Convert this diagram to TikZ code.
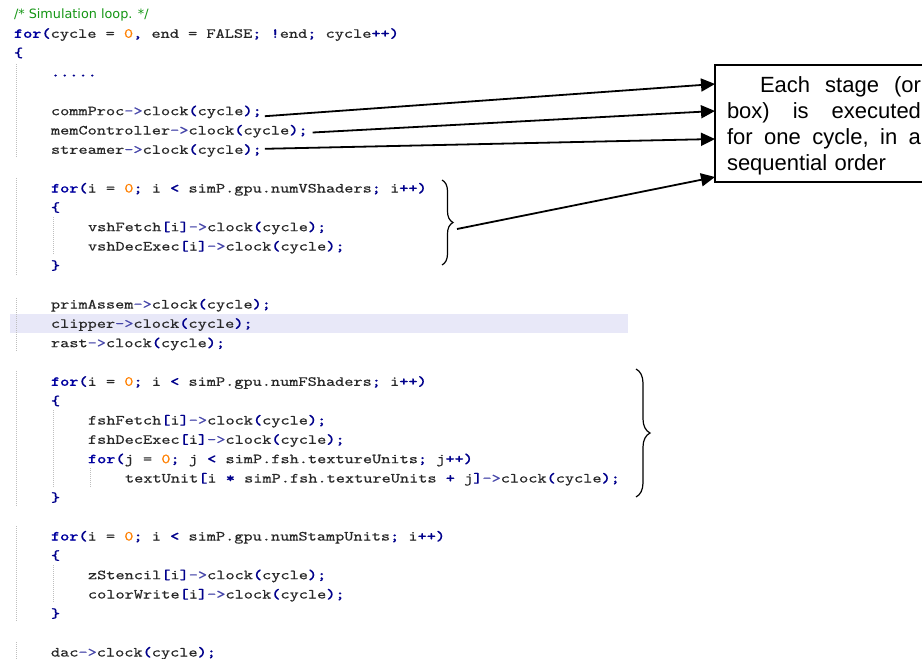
\documentclass[tikz,border=0pt]{standalone}
\usepackage{fontspec}
\setmonofont[FakeStretch=1.256, FakeBold=0.45, BoldFont=lmmonolt10-bold.otf]{lmmono10-regular.otf}
\newfontfamily\arialf{Liberation Sans}
\newfontfamily\cmtf{DejaVu Sans}
\usetikzlibrary{arrows.meta,decorations.pathreplacing}
\definecolor{kwc}{RGB}{0,0,160}
\definecolor{opc}{RGB}{0,0,140}
\definecolor{arc}{RGB}{70,70,170}
\definecolor{numc}{RGB}{255,128,0}
\definecolor{idc}{RGB}{40,40,40}
\definecolor{cmc}{RGB}{20,150,20}
\definecolor{hlc}{RGB}{232,232,248}
\definecolor{guidec}{RGB}{190,190,190}
\newcommand\ckw[1]{\textcolor{kwc}{\bfseries #1}}
\newcommand\cop[1]{\textcolor{opc}{\bfseries #1}}
\newcommand\cnum[1]{\textcolor{numc}{#1}}
\newcommand\carr{\textcolor{arc}{->}}
\newcommand\clk{\carr clock\cop{(}cycle\cop{);}}
\tikzset{
  code/.style={anchor=base west, inner sep=0pt, outer sep=0pt, text=idc,
    font=\ttfamily\fontsize{13.9}{15}\selectfont},
  cmt/.style={anchor=base west, inner sep=0pt, outer sep=0pt, text=cmc,
    font=\cmtf\fontsize{12.8}{15}\selectfont},
  guide/.style={draw=guidec, line width=0.7pt, dash pattern=on 1pt off 1pt},
  arr/.style={line width=1.8pt, -{Triangle[length=14pt,width=13pt]}},
  brc/.style={decorate, decoration={brace, amplitude=11pt}, line width=1.2pt},
  notebox/.style={draw, line width=1.5pt, outer sep=0pt, inner xsep=12pt,
    inner ysep=0pt, text width=194pt, align=left,
    font=\arialf\fontsize{22}{25.8}\selectfont}
}
\begin{document}
\begin{tikzpicture}[x=1pt,y=-1pt]
\useasboundingbox (0,0) rectangle (922,659);
\fill[white] (0,0) rectangle (922,659);
\fill[hlc] (10,314) rectangle (628,333);
% indent guides
\draw[guide] (16,64) -- (16,158);
\draw[guide] (16,178) -- (16,275);
\draw[guide] (16,298) -- (16,352);
\draw[guide] (16,371) -- (16,506);
\draw[guide] (16,526) -- (16,622);
\draw[guide] (16,642) -- (16,659);
\draw[guide] (53,217) -- (53,255);
\draw[guide] (53,410) -- (53,487);
\draw[guide] (53,565) -- (53,603);
\draw[guide] (90,468) -- (90,487);
% code
\node[cmt] (cmt) at (14,18.3) {/* Simulation loop. */};
\node[code] (r1) at (14,37.8) {\ckw{for}\cop{(}cycle = \cnum{0}\cop{,} end = FALSE\cop{;} \cop{!}end\cop{;} cycle\cop{++)}};
\node[code] (r2) at (14,57.2) {\cop{\{}};
\node[code] (r3) at (51,76.5) {\cop{.....}};
\node[code] (commproc) at (51,115.2) {commProc\clk};
\node[code] (memctrl) at (51,134.5) {memController\clk};
\node[code] (streamer) at (51,153.8) {streamer\clk};
\node[code] (vfor) at (51,192.5) {\ckw{for}\cop{(}i = \cnum{0}\cop{;} i \cop{<} simP.gpu.numVShaders\cop{;} i\cop{++)}};
\node[code] (vopen) at (51,211.8) {\cop{\{}};
\node[code] (vfetch) at (88,231.2) {vshFetch\cop{[}i\cop{]}\clk};
\node[code] (vdec) at (88,250.5) {vshDecExec\cop{[}i\cop{]}\clk};
\node[code] (vclose) at (51,269.8) {\cop{\}}};
\node[code] (prim) at (51,308.5) {primAssem\clk};
\node[code] (clip) at (51,327.8) {clipper\clk};
\node[code] (rast) at (51,347.2) {rast\clk};
\node[code] (ffor) at (51,385.8) {\ckw{for}\cop{(}i = \cnum{0}\cop{;} i \cop{<} simP.gpu.numFShaders\cop{;} i\cop{++)}};
\node[code] (fopen) at (51,405.2) {\cop{\{}};
\node[code] (ffetch) at (88,424.5) {fshFetch\cop{[}i\cop{]}\clk};
\node[code] (fdec) at (88,443.8) {fshDecExec\cop{[}i\cop{]}\clk};
\node[code] (tfor) at (88,463.2) {\ckw{for}\cop{(}j = \cnum{0}\cop{;} j \cop{<} simP.fsh.textureUnits\cop{;} j\cop{++)}};
\node[code] (tunit) at (125,482.5) {textUnit\cop{[}i \cop{*} simP.fsh.textureUnits \cop{+} j\cop{]}\clk};
\node[code] (fclose) at (51,501.8) {\cop{\}}};
\node[code] (sfor) at (51,540.5) {\ckw{for}\cop{(}i = \cnum{0}\cop{;} i \cop{<} simP.gpu.numStampUnits\cop{;} i\cop{++)}};
\node[code] (sopen) at (51,559.8) {\cop{\{}};
\node[code] (zst) at (88,579.2) {zStencil\cop{[}i\cop{]}\clk};
\node[code] (cwr) at (88,598.5) {colorWrite\cop{[}i\cop{]}\clk};
\node[code] (sclose) at (51,617.8) {\cop{\}}};
\node[code] (dac) at (51,656.5) {dac\clk};
% braces
\draw[brc] (442,180) -- (442,265);
\draw[brc, decoration={amplitude=14pt}] (636,369) -- (636,497);
\coordinate (vtip) at (457,229);
% note box
\node[notebox, anchor=north west] (box) at (715,65)
  {\rule{0pt}{27.7pt}\hspace*{33pt}\makebox[161pt][l]{Each\hfill stage\hfill (or}\\
   \makebox[194pt][l]{box)\hfill is\hfill executed}\\
   \makebox[194pt][l]{for\hfill one\hfill cycle,\hfill in\hfill a}\\
   sequential order\rule[-11.9pt]{0pt}{11.9pt}};
% connectors
\draw[arr] ([xshift=3pt,yshift=-1pt]commproc.base east) -- ([yshift=-19pt]box.north west);
\draw[arr] ([xshift=5pt,yshift=2pt]memctrl.base east) -- ([yshift=-46pt]box.north west);
\draw[arr] ([xshift=3pt,yshift=5pt]streamer.base east) -- ([yshift=-74pt]box.north west);
\draw[arr] (vtip) -- ([yshift=-112pt]box.north west);
\end{tikzpicture}
\end{document}
